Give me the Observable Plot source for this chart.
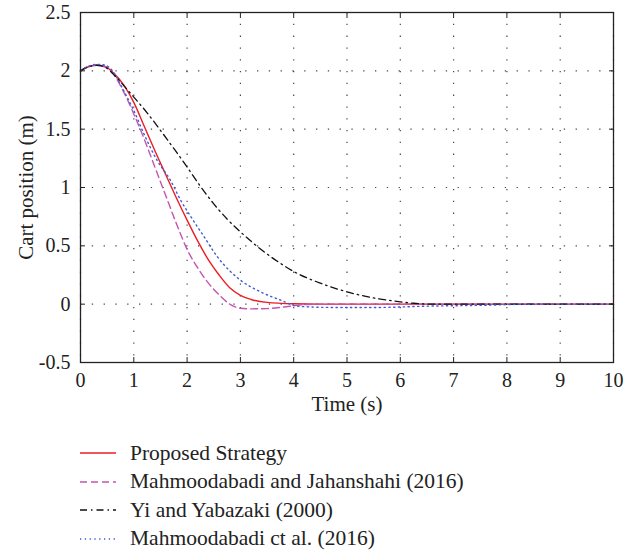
<!DOCTYPE html>
<html>
<head>
<meta charset="utf-8">
<script src="https://cdn.jsdelivr.net/npm/d3@7"></script>
<script src="https://cdn.jsdelivr.net/npm/@observablehq/plot@0.6"></script>
<style>
  body { margin: 0; background: #fff; font-family: "Liberation Serif", "DejaVu Serif", serif; }
  #legend { margin: 14px 0 0 80px; }
  .row { display: flex; align-items: center; height: 28.5px; font-size: 21.5px; color: #222; }
  .row svg { margin-right: 14px; }
</style>
</head>
<body>
<div id="chart"></div>
<div id="legend"></div>
<script>
// Cart position responses (m) over time (s) for four controllers
const seriesNames = [
  "Proposed Strategy",
  "Mahmoodabadi and Jahanshahi (2016)",
  "Yi and Yabazaki (2000)",
  "Mahmoodabadi ct al. (2016)"
];

const tProposed = [0, 0.15, 0.3, 0.45, 0.6, 0.81, 1.0, 1.2, 1.4, 1.6, 1.8, 2.0, 2.2, 2.4, 2.6, 2.8, 3.0, 3.2, 3.5, 4.0, 4.5, 6, 8, 10];
const yProposed = [2.0, 2.035, 2.048, 2.04, 1.99, 1.88, 1.73, 1.52, 1.31, 1.11, 0.91, 0.72, 0.54, 0.38, 0.25, 0.14, 0.075, 0.04, 0.015, 0.003, 0, 0, 0, 0];

const tJahanshahi = [0, 0.15, 0.3, 0.45, 0.6, 0.81, 1.0, 1.2, 1.4, 1.6, 1.8, 2.0, 2.2, 2.4, 2.6, 2.8, 3.0, 3.2, 3.5, 3.8, 4.1, 4.4, 6, 8, 10];
const yJahanshahi = [2.0, 2.035, 2.048, 2.035, 1.98, 1.82, 1.63, 1.41, 1.17, 0.93, 0.69, 0.47, 0.31, 0.18, 0.08, 0.0, -0.035, -0.04, -0.038, -0.025, -0.008, 0, 0, 0, 0];

const tYi = [0, 0.15, 0.3, 0.45, 0.6, 0.75, 1.0, 1.25, 1.5, 1.75, 2.0, 2.25, 2.5, 2.75, 3.0, 3.25, 3.5, 3.75, 4.0, 4.25, 4.5, 4.75, 5.0, 5.25, 5.5, 5.75, 6.0, 6.25, 6.6, 8, 10];
const yYi = [2.0, 2.035, 2.048, 2.035, 1.98, 1.905, 1.775, 1.64, 1.49, 1.335, 1.175, 1.01, 0.86, 0.73, 0.62, 0.52, 0.43, 0.35, 0.28, 0.225, 0.18, 0.14, 0.105, 0.077, 0.054, 0.035, 0.02, 0.008, 0, 0, 0];

const tMahmoodabadi = [0, 0.15, 0.3, 0.45, 0.6, 0.81, 1.0, 1.2, 1.44, 1.69, 1.88, 2.07, 2.32, 2.57, 3.0, 3.38, 3.76, 4.07, 4.7, 5.6, 6.5, 7.5, 8.5, 10];
const yMahmoodabadi = [2.0, 2.04, 2.055, 2.05, 2.0, 1.83, 1.66, 1.45, 1.23, 1.06, 0.89, 0.75, 0.577, 0.405, 0.206, 0.105, 0.034, -0.017, -0.028, -0.028, -0.017, -0.01, 0, 0];

const xTicks = [0, 1, 2, 3, 4, 5, 6, 7, 8, 9, 10];
const yTicks = [-0.5, 0, 0.5, 1, 1.5, 2, 2.5];

// Line styles for each series
const styles = [
  {stroke: "#ec1c24", dash: null, width: 1.4},
  {stroke: "#c455b0", dash: "7,4", width: 1.4},
  {stroke: "#111111", dash: "7,4,1.5,4", width: 1.3},
  {stroke: "#3d5cd6", dash: "1.3,3.5", width: 1.4}
];

const columns = [
  [tProposed, yProposed],
  [tJahanshahi, yJahanshahi],
  [tYi, yYi],
  [tMahmoodabadi, yMahmoodabadi]
];
const rows = columns.map(([ts, ys], i) => ts.map((t, j) => ({series: seriesNames[i], t, y: ys[j]})));

const W = 635, H = 425;
const fontFamily = '"Liberation Serif", "DejaVu Serif", serif';

const chart = Plot.plot({
  width: W,
  height: H,
  marginLeft: 80,
  marginRight: 22,
  marginTop: 12,
  marginBottom: 63,
  style: {fontFamily, fontSize: "20px", color: "#222", background: "#fff"},
  x: {domain: [0, 10]},
  y: {domain: [-0.5, 2.5]},
  marks: [
    Plot.gridX(xTicks, {stroke: "#333", strokeOpacity: 0.9, strokeWidth: 1.2, strokeDasharray: "1.3,10.5"}),
    Plot.gridY(yTicks, {stroke: "#333", strokeOpacity: 0.9, strokeWidth: 1.2, strokeDasharray: "1.3,10.5"}),
    ...rows.map((data, i) => Plot.line(data, {
      x: "t", y: "y", curve: "monotone-x",
      stroke: styles[i].stroke,
      strokeWidth: styles[i].width,
      strokeDasharray: styles[i].dash
    })),
    Plot.frame({stroke: "#222", strokeWidth: 1.3}),
    Plot.axisX(xTicks, {anchor: "bottom", tickSize: -5, tickPadding: 15, fontSize: 20, tickFormat: d => String(d), label: null}),
    Plot.axisX({anchor: "bottom", ticks: [], fontSize: 21, label: "Time (s)", labelAnchor: "center", labelOffset: 48, labelArrow: "none"}),
    Plot.axisX(xTicks, {anchor: "top", tickSize: -5, tickFormat: () => "", label: null}),
    Plot.axisY(yTicks, {anchor: "left", tickSize: -5, tickPadding: 15, fontSize: 20, tickFormat: d => String(d), label: null}),
    Plot.axisY({anchor: "left", ticks: [], fontSize: 21, label: "Cart position (m)", labelAnchor: "center", labelOffset: 62, labelArrow: "none"}),
    Plot.axisY(yTicks, {anchor: "right", tickSize: -5, tickFormat: () => "", label: null})
  ]
});
document.getElementById("chart").appendChild(chart);

// Legend under the plot
const legend = d3.select("#legend");
seriesNames.forEach((name, i) => {
  const row = legend.append("div").attr("class", "row");
  const svg = row.append("svg").attr("width", 36).attr("height", 10);
  svg.append("line")
    .attr("x1", 0).attr("x2", 36).attr("y1", 5).attr("y2", 5)
    .attr("stroke", styles[i].stroke)
    .attr("stroke-width", styles[i].width)
    .attr("stroke-dasharray", styles[i].dash);
  row.append("span").text(name);
});
</script>
</body>
</html>
